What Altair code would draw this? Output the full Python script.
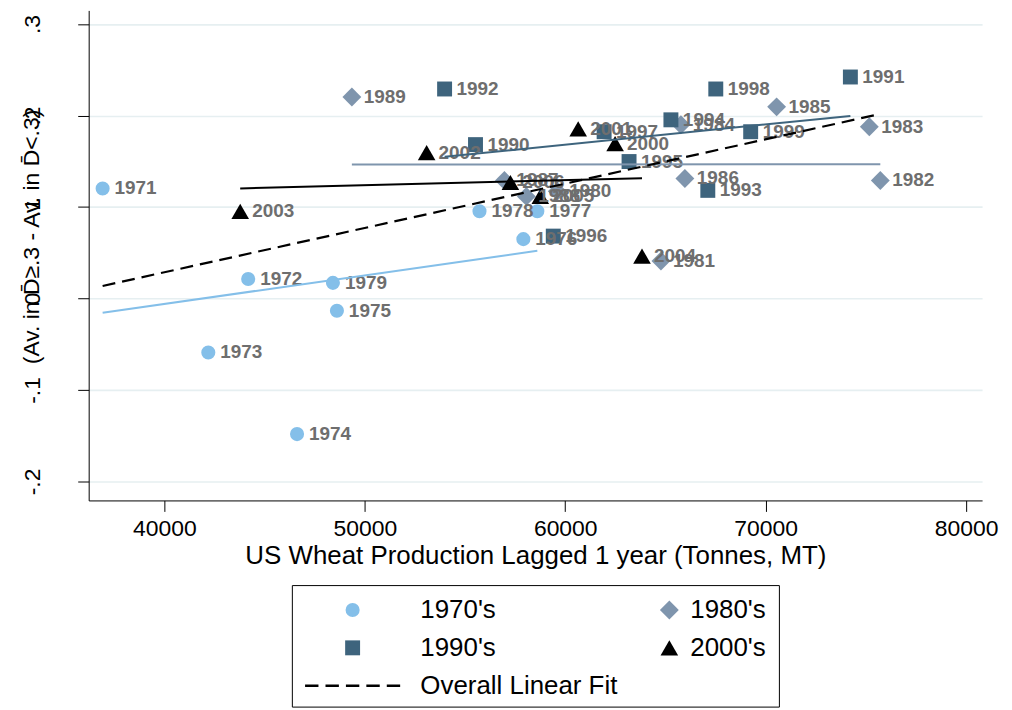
import altair as alt
import pandas as pd

FONT = "Liberation Sans"

# ---- data ----
decades = ["1970's", "1980's", "1990's", "2000's"]
fit_label = "Overall Linear Fit"

years_70 = [1971, 1972, 1973, 1974, 1975, 1976, 1977, 1978, 1979]
prod_70 = [36916, 44179, 42189, 46617, 48607, 57910, 58607, 55721, 48408]
diff_70 = [0.1203, 0.0214, -0.0590, -0.1482, -0.0134, 0.0649, 0.0953, 0.0953, 0.0171]

years_80 = [1980, 1981, 1982, 1983, 1984, 1985, 1986, 1987, 1988, 1989]
prod_80 = [59602, 64776, 75721, 75173, 65771, 70547, 65970, 56965, 58059, 49353]
diff_80 = [0.1171, 0.0410, 0.1290, 0.1877, 0.1899, 0.2095, 0.1312, 0.1290, 0.1116, 0.2203]

years_90 = [1990, 1991, 1992, 1993, 1994, 1995, 1996, 1997, 1998, 1999]
prod_90 = [55522, 74228, 53980, 67114, 65273, 63184, 59403, 61940, 67512, 69253]
diff_90 = [0.1682, 0.2421, 0.2290, 0.1182, 0.1953, 0.1497, 0.0682, 0.1823, 0.2290, 0.1823]

years_00 = [2000, 2001, 2002, 2003, 2004, 2005, 2006]
prod_00 = [62487, 60646, 53084, 43781, 63830, 58756, 57264]
diff_00 = [0.1692, 0.1855, 0.1595, 0.0953, 0.0464, 0.1116, 0.1268]

x_ticks = [40000, 50000, 60000, 70000, 80000]
y_ticks = [-0.2, -0.1, 0, 0.1, 0.2, 0.3]

# ---- tables ----
rows = []
for dec, ys_, xs_, ds_ in zip(decades,
                              [years_70, years_80, years_90, years_00],
                              [prod_70, prod_80, prod_90, prod_00],
                              [diff_70, diff_80, diff_90, diff_00]):
    for yr, xv, dv in zip(ys_, xs_, ds_):
        rows.append({"decade": dec, "year": str(yr), "x": xv, "y": dv})
df = pd.DataFrame(rows)

legend_labels = decades + [fit_label]
leg_df = pd.DataFrame({
    "label": legend_labels,
    "col": [i % 2 for i in range(len(legend_labels))],
    "row": [i // 2 for i in range(len(legend_labels))],
})

# ---- styles ----
colors = ["#84BFE9", "#7F95AD", "#3E647D", "#000000", "#000000"]
diamond = "M-1.34,0L0,-1.34L1.34,0L0,1.34Z"
square = "M-1.06,-1.06H1.06V1.06H-1.06Z"
triangle = "M0,-1.08L1.25,1.08L-1.25,1.08Z"
dashes = ("M-6.75,-0.17H-4.85V0.17H-6.75Z M-3.85,-0.17H-1.95V0.17H-3.85Z "
          "M-0.95,-0.17H0.95V0.17H-0.95Z M1.95,-0.17H3.85V0.17H1.95Z "
          "M4.85,-0.17H6.75V0.17H4.85Z")
shapes = ["circle", diamond, square, triangle, dashes]

color_scale = alt.Scale(domain=legend_labels, range=colors)
shape_scale = alt.Scale(domain=legend_labels, range=shapes)

x_axis = alt.Axis(values=x_ticks, format="d", labelFontSize=23, labelPadding=6,
                  tickSize=11, grid=False, labelFlush=False,
                  title="US Wheat Production Lagged 1 year (Tonnes, MT)",
                  titleFontSize=26, titleFontWeight="normal", titlePadding=2)
y_axis = alt.Axis(values=y_ticks,
                  labelExpr="datum.value == 0 ? '0' : (datum.value < 0 ? '-' : '') + replace(format(abs(datum.value), '.1f'), '0.', '.')",
                  labelAngle=270, labelAlign="center", labelBaseline="bottom",
                  labelFontSize=23, labelPadding=33, tickSize=11, labelOverlap=False,
                  grid=True, gridColor="#E6EFF1", gridWidth=1.6,
                  title="(Av. in D\u0304\u2265.3 - Av. in D\u0304<.3)",
                  titleFontSize=23, titleFontWeight="normal", titleY=227,
                  minExtent=45, maxExtent=45, titlePadding=0)

X = alt.X("x:Q", scale=alt.Scale(domain=[36220, 80800], nice=False, zero=False), axis=x_axis)
Y = alt.Y("y:Q", scale=alt.Scale(domain=[-0.2207, 0.3149], nice=False, zero=False), axis=y_axis)

base = alt.Chart(df)

points = base.mark_point(filled=True, size=200, opacity=1).encode(
    x=X, y=Y,
    color=alt.Color("decade:N", scale=color_scale, legend=None),
    shape=alt.Shape("decade:N", scale=shape_scale, legend=None),
)
labels = base.mark_text(align="left", baseline="middle", dx=12, fontSize=19,
                        fontWeight="bold", color="#6E6E6E", font=FONT).encode(
    x=X, y=Y, text="year:N")
fits = base.transform_regression("x", "y", groupby=["decade"]).mark_line(strokeWidth=2).encode(
    x=X, y=Y, color=alt.Color("decade:N", scale=color_scale, legend=None))
overall = base.transform_regression("x", "y").mark_line(
    strokeWidth=2.2, strokeDash=[13, 7], color="black").encode(x=X, y=Y)

main = alt.layer(points, labels, fits, overall).properties(width=897, height=492)

# ---- legend panel ----
lb = alt.Chart(leg_df)
LX = alt.X("col:Q", scale=alt.Scale(domain=[0, 1], range=[61, 379]), axis=None)
LY = alt.Y("row:Q", scale=alt.Scale(domain=[0, 2], range=[25, 101]), axis=None)
leg_pts = lb.mark_point(filled=True, size=200, opacity=1).encode(
    x=LX, y=LY,
    color=alt.Color("label:N", scale=color_scale, legend=None),
    shape=alt.Shape("label:N", scale=shape_scale, legend=None),
)
leg_txt0 = lb.transform_filter("datum.col == 0").mark_text(
    align="left", baseline="middle", dx=68, fontSize=26, font=FONT, color="black"
).encode(x=LX, y=LY, text="label:N")
leg_txt1 = lb.transform_filter("datum.col == 1").mark_text(
    align="left", baseline="middle", dx=21, fontSize=26, font=FONT, color="black"
).encode(x=LX, y=LY, text="label:N")
legend = alt.layer(leg_pts, leg_txt0, leg_txt1).properties(
    width=489, height=122, view=alt.ViewBackground(stroke="black", strokeWidth=1))

chart = alt.vconcat(main, legend, spacing=85, center=True, bounds="flush").resolve_scale(
    x="independent", y="independent", color="independent", shape="independent"
).properties(
    padding={"left": 12, "top": 0, "right": 5, "bottom": 0}, background="white"
).configure_view(stroke="transparent").configure_axis(
    labelFont=FONT, titleFont=FONT, labelColor="black", titleColor="black",
    domainColor="black", tickColor="black", domainWidth=1, tickWidth=1,
)

chart.save("out.html", embed_options={"renderer": "svg", "actions": False})
